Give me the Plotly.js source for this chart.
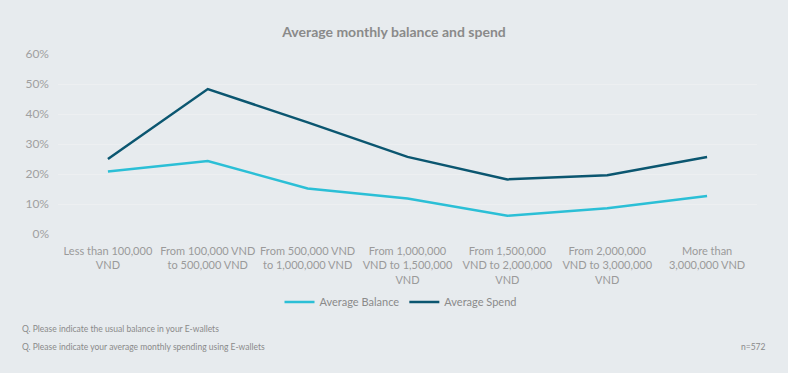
<!DOCTYPE html>
<html><head><meta charset="utf-8">
<script src="https://cdn.plot.ly/plotly-3.0.1.min.js"></script>
<style>html,body{margin:0;padding:0;background:#e7ebee;}</style>
</head><body>
<div id="chart" style="width:788px;height:373px;"></div>
<script>
const categories = [
  "Less than 100,000<br>VND",
  "From 100,000 VND<br>to 500,000 VND",
  "From 500,000 VND<br>to 1,000,000 VND",
  "From 1,000,000<br>VND to 1,500,000<br>VND",
  "From 1,500,000<br>VND to 2,000,000<br>VND",
  "From 2,000,000<br>VND to 3,000,000<br>VND",
  "More than<br>3,000,000 VND"
];
const averageBalance = [0.208, 0.243, 0.152, 0.118, 0.061, 0.086, 0.127];
const averageSpend = [0.25, 0.483, 0.372, 0.257, 0.182, 0.196, 0.257];
const yTickValues = [0, 0.1, 0.2, 0.3, 0.4, 0.5, 0.6];

const font = "Lato, 'Open Sans', sans-serif";
const traces = [
  {x: categories, y: averageBalance, name: "Average Balance", type: "scatter", mode: "lines",
   line: {color: "#2bbfd6", width: 2.5}},
  {x: categories, y: averageSpend, name: "Average Spend", type: "scatter", mode: "lines",
   line: {color: "#0b5670", width: 2.5}}
];
const layout = {
  width: 788, height: 373,
  paper_bgcolor: "#e7ebee", plot_bgcolor: "#e7ebee",
  margin: {l: 58, r: 31, t: 54, b: 139},
  font: {family: font, color: "#9a9a9a", size: 11},
  title: {text: "<b>Average monthly balance and spend</b>", x: 0.5, xanchor: "center", y: 0.913, yanchor: "middle",
          font: {family: font, size: 14, color: "#8a8a8a"}},
  xaxis: {type: "category", range: [-0.5, 6.5], showgrid: false, zeroline: false, showline: false, ticks: "",
          ticklabelstandoff: 9,
          tickfont: {family: font, size: 11, color: "#9a9a9a"}, fixedrange: true},
  yaxis: {range: [0, 0.6], tickvals: yTickValues, tickformat: ".0%", showgrid: true, gridcolor: "#edeff1",
          gridwidth: 1, zeroline: false, showline: false, ticks: "", ticklen: 0, ticklabelstandoff: 8,
          tickfont: {family: font, size: 12, color: "#a0a0a0"}, fixedrange: true},
  showlegend: true,
  legend: {orientation: "h", x: 0.49, xanchor: "center", y: -0.378, yanchor: "middle",
           font: {family: font, size: 11, color: "#8a8a8a"}, itemwidth: 30, tracegroupgap: 0},
  annotations: [
    {text: "Q. Please indicate the usual balance in your E-wallets", xref: "paper", yref: "paper",
     x: -0.054, y: -0.528, xanchor: "left", yanchor: "middle", showarrow: false,
     font: {family: font, size: 8.5, color: "#8a8a8a"}},
    {text: "Q. Please indicate your average monthly spending using E-wallets", xref: "paper", yref: "paper",
     x: -0.054, y: -0.628, xanchor: "left", yanchor: "middle", showarrow: false,
     font: {family: font, size: 8.5, color: "#8a8a8a"}},
    {text: "n=572", xref: "paper", yref: "paper", x: 1.016, y: -0.628, xanchor: "right", yanchor: "middle",
     showarrow: false, font: {family: font, size: 8.5, color: "#8a8a8a"}}
  ]
};
Plotly.newPlot("chart", traces, layout, {displayModeBar: false, staticPlot: true});
</script>
</body></html>
